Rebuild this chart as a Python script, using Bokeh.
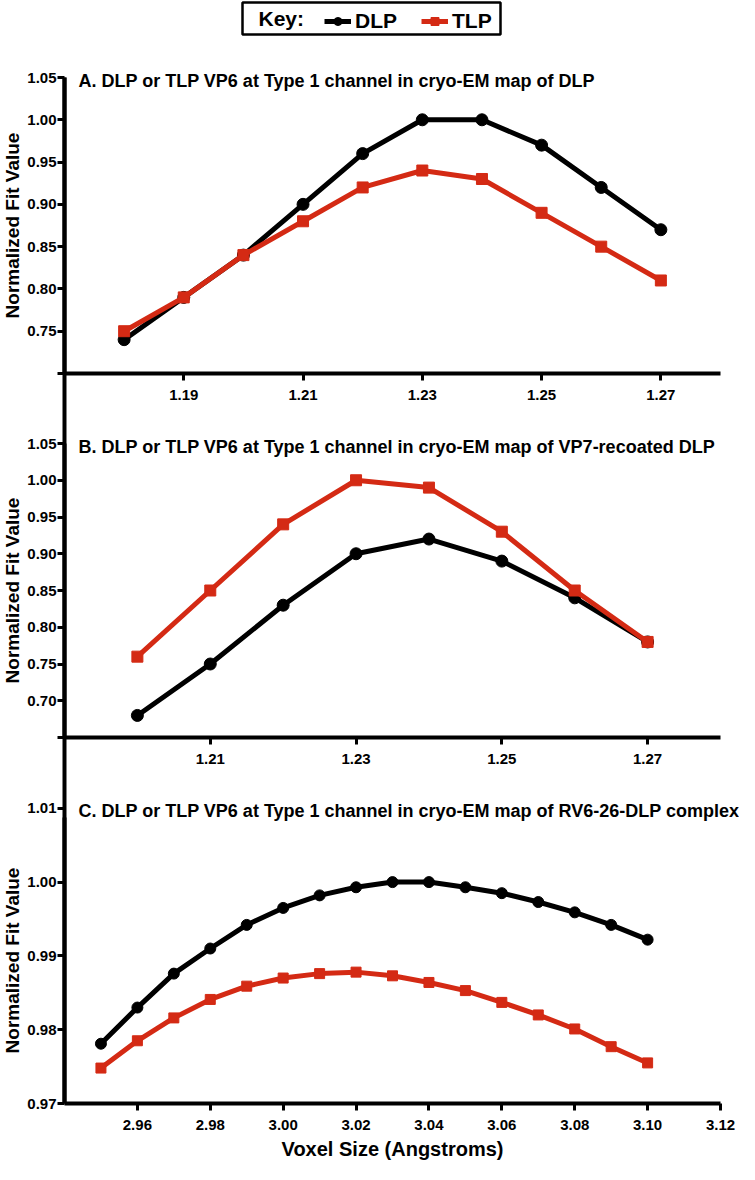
from bokeh.plotting import figure
from bokeh.models import (Range1d, FixedTicker, NumeralTickFormatter, Label, LinearAxis,
                          Legend, LegendItem, Spacer)
from bokeh.layouts import column, row
from bokeh.embed import file_html
from bokeh.resources import INLINE

# ---------------- data ----------------
series_names = ["DLP", "TLP"]

a_title = "A. DLP or TLP VP6 at Type 1 channel in cryo-EM map of DLP"
a_x = [1.18, 1.19, 1.20, 1.21, 1.22, 1.23, 1.24, 1.25, 1.26, 1.27]
a_dlp = [0.74, 0.79, 0.84, 0.90, 0.96, 1.00, 1.00, 0.97, 0.92, 0.87]
a_tlp = [0.75, 0.79, 0.84, 0.88, 0.92, 0.94, 0.93, 0.89, 0.85, 0.81]
a_xticks = [1.19, 1.21, 1.23, 1.25, 1.27]
a_yticks = [0.70, 0.75, 0.80, 0.85, 0.90, 0.95, 1.00, 1.05]
a_hidden = [0.70]

b_title = "B. DLP or TLP VP6 at Type 1 channel in cryo-EM map of VP7-recoated DLP"
b_x = [1.20, 1.21, 1.22, 1.23, 1.24, 1.25, 1.26, 1.27]
b_dlp = [0.68, 0.75, 0.83, 0.90, 0.92, 0.89, 0.84, 0.78]
b_tlp = [0.76, 0.85, 0.94, 1.00, 0.99, 0.93, 0.85, 0.78]
b_xticks = [1.21, 1.23, 1.25, 1.27]
b_yticks = [0.65, 0.70, 0.75, 0.80, 0.85, 0.90, 0.95, 1.00, 1.05]
b_hidden = [0.65]

c_title = "C. DLP or TLP VP6 at Type 1 channel in cryo-EM map of RV6-26-DLP complex"
c_x = [2.95, 2.96, 2.97, 2.98, 2.99, 3.00, 3.01, 3.02, 3.03, 3.04, 3.05, 3.06, 3.07, 3.08, 3.09, 3.10]
c_dlp = [0.9781, 0.9830, 0.9876, 0.9910, 0.9942, 0.9965, 0.9982, 0.9993, 1.0000, 1.0000,
         0.9993, 0.9985, 0.9973, 0.9959, 0.9942, 0.9922]
c_tlp = [0.9748, 0.9785, 0.9816, 0.9841, 0.9859, 0.9870, 0.9876, 0.9878, 0.9873, 0.9864,
         0.9853, 0.9837, 0.9820, 0.9801, 0.9777, 0.9755]
c_xticks = [2.96, 2.98, 3.00, 3.02, 3.04, 3.06, 3.08, 3.10, 3.12]
c_yticks = [0.97, 0.98, 0.99, 1.00, 1.01]
c_hidden = []

y_label = "Normalized Fit Value"
x_label = "Voxel Size (Angstroms)"

# ---------------- style / layout ----------------
W = 739
FONT = "Liberation Sans"
BLACK = "#000000"
RED = "#d42a14"

LEG_H = 36
CANVAS_L, CANVAS_R = 8, 8 + W             # page pixels covered by the main canvas
CANVAS_T = 8 + LEG_H
CANVAS_B = 1172
FIG_H = CANVAS_B - CANVAS_T
AX_L, AX_R = 72, 728                       # page x of the axes' left / right ends


def scale_range(v0, px0, v1, px1, lo, hi):
    """Range whose values v0/v1 land at page pixels px0/px1, over a canvas from lo to hi."""
    k = (px1 - px0) / (v1 - v0)
    return Range1d(v0 + (lo - px0) / k, v0 + (hi - px0) / k)


def y_range_for(v_top, px_top, v_bot, px_bot):
    k = (px_bot - px_top) / (v_bot - v_top)
    return Range1d(v_top + (CANVAS_B - px_top) / k, v_top + (CANVAS_T - px_top) / k)


def x_range_for(v_l, v_r):
    return scale_range(v_l, AX_L, v_r, AX_R, CANVAS_L, CANVAS_R)


panels = [
    dict(key="a", title=a_title, x=a_x, dlp=a_dlp, tlp=a_tlp, xb=(1.17, 1.28),
         yr=(1.05, 85, 0.70, 381), xticks=a_xticks, yticks=a_yticks,
         hidden=a_hidden, ybounds=(0.70, 1.05), title_y=1.05, msize=12),
    dict(key="b", title=b_title, x=b_x, dlp=b_dlp, tlp=b_tlp, xb=(1.19, 1.28),
         yr=(1.05, 451, 0.65, 745), xticks=b_xticks, yticks=b_yticks,
         hidden=b_hidden, ybounds=(0.65, 1.05), title_y=1.05, msize=12),
    dict(key="c", title=c_title, x=c_x, dlp=c_dlp, tlp=c_tlp, xb=(2.94, 3.12),
         yr=(1.02, 742, 0.97, 1111), xticks=c_xticks, yticks=c_yticks,
         hidden=c_hidden, ybounds=(0.97, 1.0088), title_y=1.01, msize=11),
]

p = figure(width=W, height=FIG_H,
           x_range=x_range_for(0, 1), y_range=Range1d(0, 1),
           x_axis_location=None, y_axis_location=None, min_border=0,
           output_backend="svg", toolbar_location=None)
p.grid.visible = False
p.outline_line_color = None
p.extra_x_ranges = {d["key"]: x_range_for(*d["xb"]) for d in panels}
p.extra_y_ranges = {d["key"]: y_range_for(*d["yr"]) for d in panels}


def style(ax):
    ax.axis_line_width = 4
    ax.axis_line_color = BLACK
    ax.major_tick_line_width = 3
    ax.major_tick_line_color = BLACK
    ax.major_tick_in = 0
    ax.major_tick_out = 7
    ax.minor_tick_in = 0
    ax.minor_tick_out = 0
    ax.major_label_text_font = FONT
    ax.major_label_text_font_style = "bold"
    ax.major_label_text_font_size = "15px"
    ax.major_label_text_color = BLACK
    ax.formatter = NumeralTickFormatter(format="0.00")
    ax.axis_label_text_font = FONT
    ax.axis_label_text_font_style = "bold"
    ax.axis_label_text_font_size = "19px"
    ax.axis_label_text_color = BLACK


# continuous vertical spine from the top of panel A to the bottom of panel C
c_top, c_top_px, c_bot, c_bot_px = panels[2]["yr"]
spine_top = c_top + (c_top_px - panels[0]["yr"][1]) * (c_top - c_bot) / (c_bot_px - c_top_px)
spine = LinearAxis(y_range_name="c", fixed_location=0, ticker=FixedTicker(ticks=[]),
                   bounds=(c_bot, spine_top))
style(spine)
spine.major_label_text_font_size = "0px"
p.add_layout(spine, "left")

for d in panels:
    k = d["key"]
    yax = LinearAxis(y_range_name=k, fixed_location=0, bounds=d["ybounds"],
                     ticker=FixedTicker(ticks=d["yticks"]), axis_label=y_label)
    style(yax)
    yax.major_label_standoff = 1
    yax.axis_label_standoff = 1
    yax.major_label_overrides = {t: "" for t in d["hidden"]}
    p.add_layout(yax, "left")

    xax = LinearAxis(x_range_name=k, y_range_name=k, fixed_location=d["ybounds"][0],
                     bounds=d["xb"], ticker=FixedTicker(ticks=d["xticks"]))
    style(xax)
    xax.major_label_standoff = 9
    if k == "c":
        xax.axis_label = x_label
        xax.axis_label_standoff = 5
        xax.axis_label_text_font_size = "20px"
    p.add_layout(xax, "below")

    rk = dict(x_range_name=k, y_range_name=k)
    p.line(d["x"], d["dlp"], line_color=BLACK, line_width=5, **rk)
    p.scatter(d["x"], d["dlp"], marker="circle", size=d["msize"], color=BLACK, **rk)
    p.line(d["x"], d["tlp"], line_color=RED, line_width=5, **rk)
    p.scatter(d["x"], d["tlp"], marker="square", size=d["msize"] - 1, color=RED, **rk)

    p.add_layout(Label(x=d["xb"][0], y=d["title_y"], x_offset=14, y_offset=-3,
                       x_range_name=k, y_range_name=k, text=d["title"],
                       text_font=FONT, text_font_style="bold", text_font_size="18px",
                       text_color=BLACK, text_baseline="middle"))

# ---------------- key box ----------------
lg = figure(width=262, height=LEG_H, x_range=Range1d(0, 1), y_range=Range1d(0, 1),
            x_axis_location=None, y_axis_location=None, min_border=2,
            output_backend="svg", toolbar_location=None)
lg.grid.visible = False
lg.outline_line_color = BLACK
lg.outline_line_width = 2.5
# samples of the series (outside the key's view) that only feed the key glyphs
r1 = lg.line(a_x, a_dlp, line_color=BLACK, line_width=5)
r2 = lg.scatter(a_x, a_dlp, marker="circle", size=12, color=BLACK)
r3 = lg.line(a_x, a_tlp, line_color=RED, line_width=5)
r4 = lg.scatter(a_x, a_tlp, marker="square", size=11, color=RED)
lg.add_layout(Label(x=0, y=0.5, x_offset=16, text="Key:", text_font=FONT,
                    text_font_style="bold", text_font_size="21px", text_color=BLACK,
                    text_baseline="middle"))
legend = Legend(items=[LegendItem(label=series_names[0], renderers=[r1, r2]),
                       LegendItem(label=series_names[1], renderers=[r3, r4])],
                orientation="horizontal", location=(82, 1), margin=0, padding=3,
                spacing=24, label_standoff=4, glyph_width=27, glyph_height=20,
                border_line_color=None, background_fill_alpha=0,
                label_text_font=FONT, label_text_font_style="bold",
                label_text_font_size="21px", label_text_color=BLACK,
                label_text_baseline="middle")
lg.add_layout(legend, "center")

layout = column(row(Spacer(width=240, height=LEG_H), lg), p)
open("out.html", "w").write(file_html(layout, INLINE))
